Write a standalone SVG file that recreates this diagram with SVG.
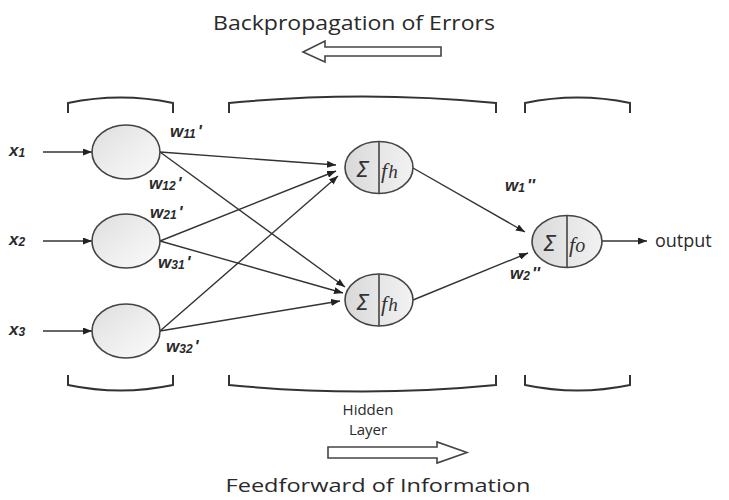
<svg xmlns="http://www.w3.org/2000/svg" width="729" height="500" viewBox="0 0 729 500">
<defs>
<linearGradient id="gIn" x1="0" y1="0" x2="1" y2="1">
<stop offset="0" stop-color="#dedede"/><stop offset="0.6" stop-color="#f0f0f0"/><stop offset="1" stop-color="#fafafa"/>
</linearGradient>
<linearGradient id="gN" x1="0" y1="0" x2="1" y2="0">
<stop offset="0" stop-color="#d8d8d8"/><stop offset="0.5" stop-color="#e6e6e6"/><stop offset="1" stop-color="#f2f2f2"/>
</linearGradient>
<marker id="ah" markerWidth="9" markerHeight="7" refX="9" refY="3.5" orient="auto" markerUnits="userSpaceOnUse">
<path d="M0,0 L9,3.5 L0,7 Z" fill="#222"/>
</marker>
<style>
.node{stroke:#444;stroke-width:1.6}
.div{stroke:#444;stroke-width:1.6}
.con line{stroke:#333;stroke-width:1.4;marker-end:url(#ah)}
.br{fill:none;stroke:#333;stroke-width:2}
.big{font-family:"Open Sans","Noto Sans","DejaVu Sans",sans-serif;fill:#2a2a2a}
.w{font-family:"Liberation Sans",Arial,sans-serif;font-weight:bold;font-style:italic;fill:#2a2a2a;font-size:17px}
.sub{font-size:12px}
.sig{font-family:"DejaVu Sans","Liberation Sans",sans-serif;font-style:italic;fill:#333;font-size:21px}
.f{font-family:"Liberation Serif","DejaVu Serif",serif;font-style:italic;fill:#333;font-size:22px}
.hol{fill:#fff;stroke:#444;stroke-width:1.6}
</style>
</defs>
<rect width="729" height="500" fill="#fff"/>

<text class="big" x="354" y="30" font-size="20" text-anchor="middle" textLength="282" lengthAdjust="spacingAndGlyphs">Backpropagation of Errors</text>
<path class="hol" d="M303,52 L325,41 L325,47 L441,47 L441,56 L325,56 L325,62 Z"/>

<g id="brackets">
<path class="br" d="M68,113 V103 Q120.5,92 173,103 V113"/>
<path class="br" d="M229,113 V103 Q362.5,90 496,103 V113"/>
<path class="br" d="M525,113 V103 Q577.5,92 630,103 V113"/>
<path class="br" d="M68,375 V385 Q120.5,396 173,385 V375"/>
<path class="br" d="M229,375 V385 Q362.5,398 496,385 V375"/>
<path class="br" d="M525,375 V385 Q577.5,396 630,385 V375"/>
</g>

<g id="connectors" class="con">
<line x1="43" y1="152" x2="92" y2="152"/>
<line x1="43" y1="241" x2="92" y2="241"/>
<line x1="43" y1="331" x2="92" y2="331"/>
<line x1="160" y1="152" x2="336" y2="165"/>
<line x1="160" y1="152" x2="345" y2="287"/>
<line x1="160" y1="241" x2="336" y2="171"/>
<line x1="160" y1="241" x2="343" y2="293"/>
<line x1="160" y1="331" x2="338" y2="176"/>
<line x1="160" y1="331" x2="340" y2="301"/>
<line x1="413" y1="168" x2="525" y2="232"/>
<line x1="413" y1="300" x2="528" y2="253"/>
<line x1="602" y1="241" x2="647" y2="241"/>
</g>

<g id="in1"><ellipse class="node" cx="126" cy="152" rx="34" ry="27" fill="url(#gIn)"/></g>
<g id="in2"><ellipse class="node" cx="126" cy="241" rx="34" ry="27" fill="url(#gIn)"/></g>
<g id="in3"><ellipse class="node" cx="126" cy="331" rx="34" ry="27" fill="url(#gIn)"/></g>

<g id="h1">
<ellipse class="node" cx="379" cy="167.5" rx="34" ry="26" fill="url(#gN)"/>
<line class="div" x1="379" y1="141.5" x2="379" y2="193.5"/>
<text class="sig" x="356" y="177">Σ</text>
<text class="f" x="381" y="178">f<tspan font-size="19" dx="1">h</tspan></text>
</g>
<g id="h2">
<ellipse class="node" cx="379" cy="300" rx="34" ry="26" fill="url(#gN)"/>
<line class="div" x1="379" y1="274" x2="379" y2="326"/>
<text class="sig" x="356" y="309.5">Σ</text>
<text class="f" x="381" y="310.5">f<tspan font-size="19" dx="1">h</tspan></text>
</g>
<g id="out">
<ellipse class="node" cx="567" cy="241.5" rx="35" ry="26" fill="url(#gN)"/>
<line class="div" x1="567" y1="215.5" x2="567" y2="267.5"/>
<text class="sig" x="543" y="251">Σ</text>
<text class="f" x="569" y="252">f<tspan font-size="20" dx="0">o</tspan></text>
</g>

<text class="big" x="655" y="247" font-size="18">output</text>

<g id="labels">
<text class="w" x="9" y="156">x<tspan class="sub" dy="1">1</tspan></text>
<text class="w" x="9" y="245">x<tspan class="sub" dy="1">2</tspan></text>
<text class="w" x="9" y="335">x<tspan class="sub" dy="1">3</tspan></text>
<text class="w" x="170" y="137">w<tspan class="sub" dy="1">11</tspan><tspan dy="-1" dx="2">'</tspan></text>
<text class="w" x="149" y="189">w<tspan class="sub" dy="1">12</tspan><tspan dy="-1" dx="2">'</tspan></text>
<text class="w" x="150" y="218">w<tspan class="sub" dy="1">21</tspan><tspan dy="-1" dx="2">'</tspan></text>
<text class="w" x="158" y="268">w<tspan class="sub" dy="1">31</tspan><tspan dy="-1" dx="2">'</tspan></text>
<text class="w" x="166" y="352">w<tspan class="sub" dy="1">32</tspan><tspan dy="-1" dx="2">'</tspan></text>
<text class="w" x="505" y="191">w<tspan class="sub" dy="1">1</tspan><tspan dy="-1" dx="2">''</tspan></text>
<text class="w" x="510" y="279">w<tspan class="sub" dy="1">2</tspan><tspan dy="-1" dx="2">''</tspan></text>
</g>

<text class="big" x="368" y="415" font-size="15" text-anchor="middle">Hidden</text>
<text class="big" x="368" y="435" font-size="15" text-anchor="middle">Layer</text>
<path class="hol" d="M467,452.5 L437,442 L437,447 L328,447 L328,458 L437,458 L437,463 Z"/>
<text class="big" x="378" y="492" font-size="19" text-anchor="middle" textLength="305" lengthAdjust="spacingAndGlyphs">Feedforward of Information</text>
</svg>
